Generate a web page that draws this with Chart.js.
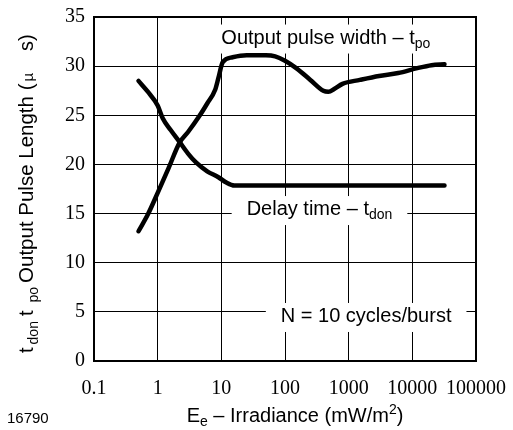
<!DOCTYPE html>
<html>
<head>
<meta charset="utf-8">
<script src="https://cdn.jsdelivr.net/npm/chart.js@4"></script>
<style>
  body { margin: 0; background: #fff; }
  #wrap { width: 513px; height: 430px; }
</style>
</head>
<body>
<div id="wrap"><canvas id="c" width="513" height="430"></canvas></div>
<script>
// irradiance (mW/m2) and pulse width t_po (us)
const pulseX = [0.5, 0.7, 1, 1.5, 2.2, 3, 4.6, 6, 8, 9, 10.5, 15, 25, 50, 70, 100, 150, 250, 400, 480, 600, 800, 1500, 3000, 6000, 12000, 20000, 32000];
const pulseY = [13.2, 14.9, 17.1, 19.7, 22.2, 23.3, 25.0, 26.2, 27.6, 28.8, 30.4, 30.9, 31.1, 31.1, 31.0, 30.55, 29.8, 28.6, 27.5, 27.4, 27.7, 28.2, 28.6, 29.0, 29.3, 29.8, 30.1, 30.2];
// delay time t_don (us)
const delayX = [0.5, 0.7, 1, 1.2, 1.6, 2.2, 3, 4, 6, 9, 12, 16, 32000];
const delayY = [28.5, 27.4, 26.0, 24.7, 23.5, 22.3, 21.1, 20.2, 19.3, 18.7, 18.15, 17.85, 17.85];

const xTicks = [0.1, 1, 10, 100, 1000, 10000, 100000];
const xTickLabels = ['0.1', '1', '10', '100', '1000', '10000', '100000'];

const sans = '"Liberation Sans", Arial, sans-serif';
const serif = '"Liberation Serif", "Times New Roman", serif';

// text made of pieces (normal / sub / sup), gap = extra space before a piece
function richWidth(ctx, parts) {
  let w = 0;
  parts.forEach(p => { ctx.font = p.size + 'px ' + sans; w += (p.gap || 0) + ctx.measureText(p.t).width; });
  return w;
}
function drawRich(ctx, parts, x, y) {
  parts.forEach(p => {
    ctx.font = p.size + 'px ' + sans;
    x += p.gap || 0;
    ctx.fillText(p.t, x, y + (p.dy || 0));
    x += ctx.measureText(p.t).width;
  });
}

// notes anchored in data coords: [x value, y value] = left end / baseline of text
const notes = [
  { at: [10, 32.3], parts: [{ t: 'Output pulse width \u2013 t', size: 20 }, { t: 'po', size: 14, dy: 4 }] },
  { at: [25, 14.85], parts: [{ t: 'Delay time \u2013 t', size: 20 }, { t: 'don', size: 14, dy: 4 }] },
  { at: [86, 3.97], parts: [{ t: 'N = 10 cycles/burst', size: 20 }] }
];

const decor = {
  id: 'decor',
  beforeDatasetsDraw(chart) {
    const { ctx, scales: { x, y } } = chart;
    ctx.save();
    ctx.fillStyle = '#fff';
    notes.forEach(n => {
      const px = x.getPixelForValue(n.at[0]);
      const py = y.getPixelForValue(n.at[1]);
      const w = richWidth(ctx, n.parts);
      ctx.fillRect(px - 15, py - 19, w + 30, 29);
    });
    ctx.restore();
  },
  afterDatasetsDraw(chart) {
    const { ctx, chartArea: a, scales: { x, y } } = chart;
    ctx.save();
    ctx.strokeStyle = '#000';
    ctx.lineWidth = 2;
    ctx.strokeRect(a.left, a.top, a.right - a.left, a.bottom - a.top);

    ctx.fillStyle = '#000';
    ctx.textBaseline = 'alphabetic';
    ctx.textAlign = 'left';
    notes.forEach(n => {
      drawRich(ctx, n.parts, x.getPixelForValue(n.at[0]), y.getPixelForValue(n.at[1]));
    });

    // x axis title
    const xt = [
      { t: 'E', size: 20 }, { t: 'e', size: 14, dy: 4 },
      { t: ' \u2013 Irradiance (mW/m', size: 20 }, { t: '2', size: 14, dy: -8 }, { t: ')', size: 20 }
    ];
    drawRich(ctx, xt, 295 - richWidth(ctx, xt) / 2, 422);

    // y axis title, rotated, read from the bottom up
    const yt = [
      { t: 't', size: 20 }, { t: 'don', size: 14, dy: 5, gap: 3 }, { t: 't', size: 20, gap: 5 },
      { t: 'po', size: 14, dy: 5, gap: 8 }, { t: 'Output Pulse Length (', size: 20.5, gap: 4 },
      { t: '\u00b5', size: 15, gap: 2 }, { t: 's)', size: 20, gap: 22 }
    ];
    ctx.translate(33, 0);
    ctx.rotate(-Math.PI / 2);
    drawRich(ctx, yt, -353, 0);
    ctx.restore();

    ctx.save();
    ctx.fillStyle = '#000';
    ctx.font = '15px ' + sans;
    ctx.fillText('16790', 7, 423);
    ctx.restore();
  }
};

const lineStyle = { borderColor: '#000', borderWidth: 4.5, pointRadius: 0, tension: 0.3, cubicInterpolationMode: 'monotone', borderCapStyle: 'round', borderJoinStyle: 'round', fill: false };

new Chart(document.getElementById('c'), {
  type: 'line',
  data: {
    datasets: [
      { label: 'Output pulse width', data: pulseX.map((v, i) => ({ x: v, y: pulseY[i] })), ...lineStyle },
      { label: 'Delay time', data: delayX.map((v, i) => ({ x: v, y: delayY[i] })), ...lineStyle }
    ]
  },
  options: {
    responsive: false,
    animation: false,
    layout: { padding: { left: 0, top: 17, right: 37, bottom: 0 } },
    plugins: { legend: { display: false }, tooltip: { enabled: false } },
    scales: {
      x: {
        type: 'logarithmic',
        min: 0.1,
        max: 100000,
        afterBuildTicks: s => { s.ticks = xTicks.map(v => ({ value: v })); },
        afterFit: s => { s.height = 69; s.paddingLeft = 0; s.paddingRight = 0; },
        ticks: {
          callback: (v, i) => xTickLabels[i],
          font: { family: serif, size: 20 },
          color: '#000',
          padding: 16,
          maxRotation: 0,
          autoSkip: false
        },
        grid: { color: '#000', lineWidth: 1, drawTicks: false },
        border: { display: false }
      },
      y: {
        min: 0,
        max: 35,
        afterFit: s => { s.width = 94; s.paddingTop = 0; s.paddingBottom = 0; },
        ticks: { stepSize: 5, font: { family: serif, size: 20 }, color: '#000', padding: 9 },
        grid: { color: '#000', lineWidth: 1, drawTicks: false },
        border: { display: false }
      }
    }
  },
  plugins: [decor]
});
</script>
</body>
</html>
